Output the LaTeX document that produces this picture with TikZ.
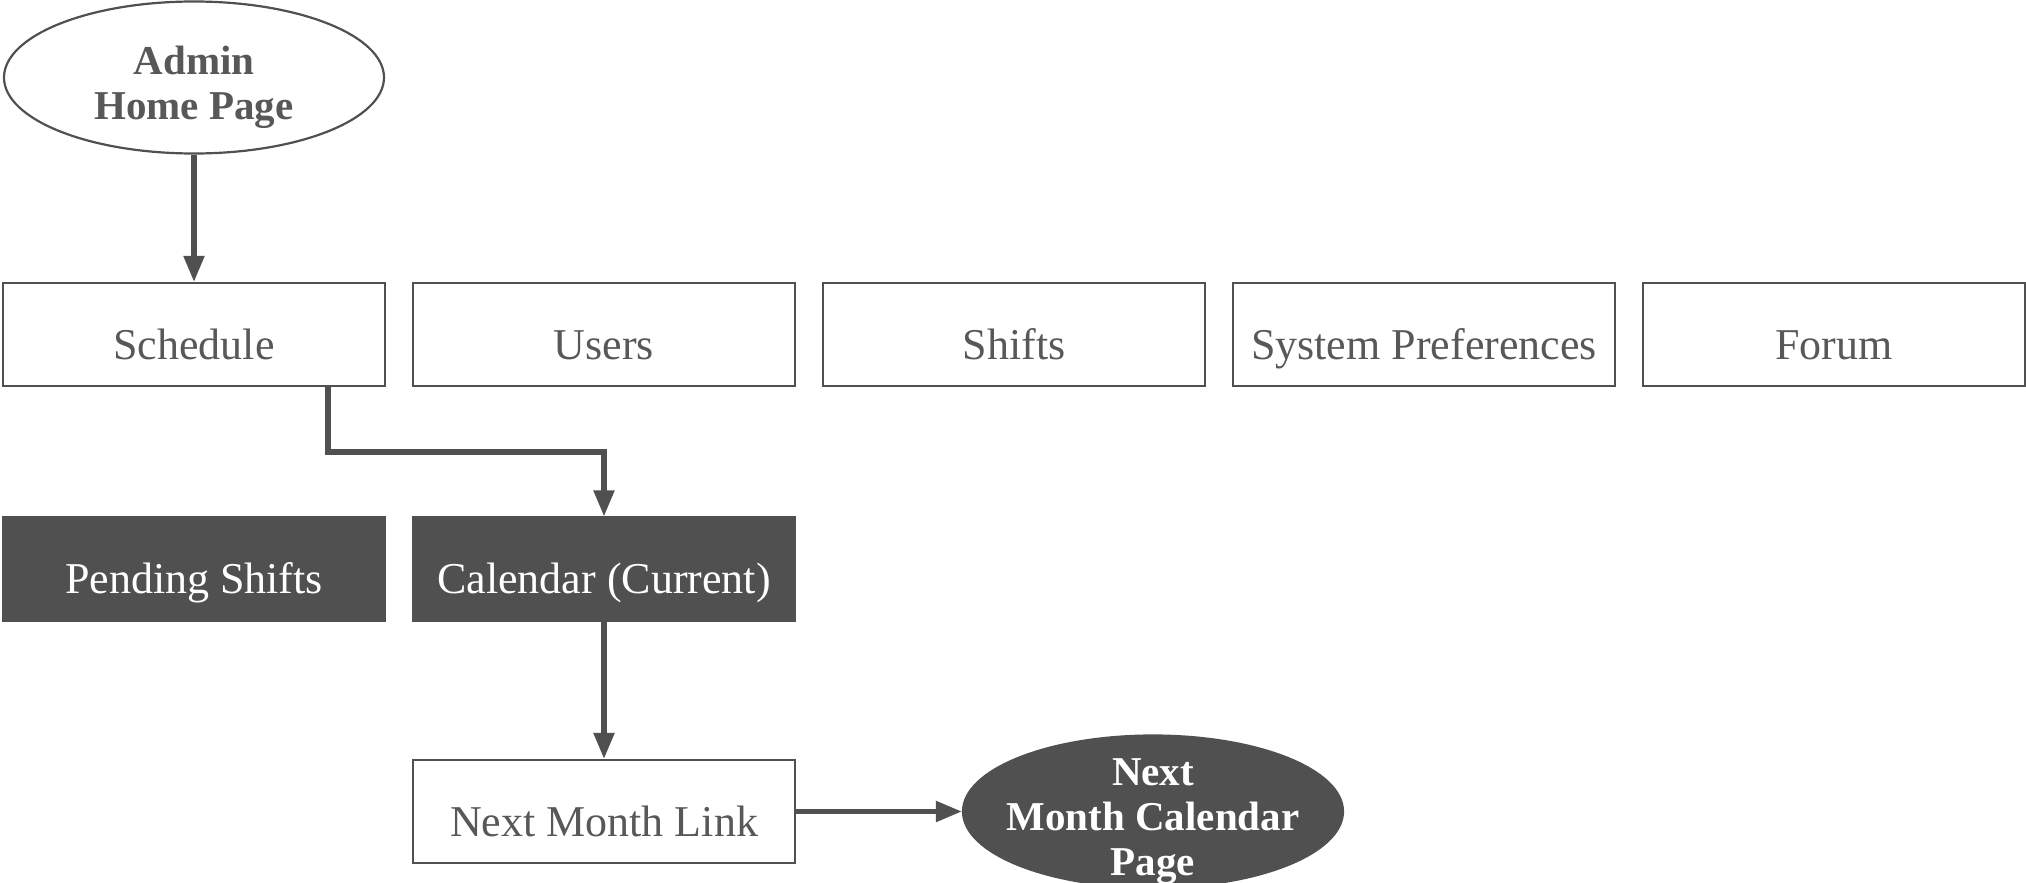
\documentclass[tikz,border=0pt]{standalone}
\usepackage{fontspec}
\setmainfont{Liberation Serif}
\usetikzlibrary{arrows.meta}
\usetikzlibrary{shapes.geometric}
\definecolor{darkgrey}{RGB}{80,80,80}
\definecolor{textgrey}{RGB}{88,88,88}

\begin{document}
\begin{tikzpicture}[x=0.5pt,y=0.5pt,yscale=-1,xscale=1,
  pagebox/.style={draw=darkgrey,line width=1.1pt,minimum width=191pt,minimum height=51.5pt,inner sep=0pt,text height=24.6pt,text depth=0pt,text=textgrey,font=\fontsize{22}{26}\selectfont},
  darkbox/.style={pagebox,fill=darkgrey,text=white},
  pageoval/.style={ellipse,draw=darkgrey,line width=1.1pt,minimum width=190pt,minimum height=76pt,inner sep=0pt},
  darkoval/.style={pageoval,fill=darkgrey},
  ovaltext/.style={align=center,yshift=-4.8pt,inner sep=0pt,font=\bfseries\fontsize{20.5}{22.5}\selectfont},
  flow/.style={draw=darkgrey,line width=2.6pt,-{Triangle[length=13pt,width=10pt]}}]
%set diagram to the size of the page
\path[use as bounding box] (0,0) rectangle (2026,883);

%Ellipse
\node[pageoval,label={[ovaltext,text=textgrey]center:Admin\\Home Page}] (admin) at (194,77.5) {};

%Top row of pages
\node[pagebox] (schedule) at (194,334.5) {Schedule};
\node[pagebox] (users) at (604,334.5) {Users};
\node[pagebox] (shifts) at (1014,334.5) {Shifts};
\node[pagebox] (prefs) at (1424,334.5) {System Preferences};
\node[pagebox] (forum) at (1834,334.5) {Forum};

%Schedule sub pages
\node[darkbox] (pending) at (194,569) {Pending Shifts};
\node[darkbox] (calendar) at (604,569) {Calendar (Current)};

%Next month
\node[pagebox] (nextlink) at (604,811.5) {Next Month Link};
\node[darkoval,label={[ovaltext,text=white]center:Next\\Month Calendar\\Page}] (nextpage) at (1153,811.5) {};

%Straight Lines
\coordinate (bend) at (328,452);
\draw[flow] (admin) -- (schedule);
\draw[flow] (schedule.south -| bend) -- (bend) -| (calendar.north);
\draw[flow] (calendar) -- (nextlink);
\draw[flow] (nextlink) -- (nextpage);

\end{tikzpicture}
\end{document}
